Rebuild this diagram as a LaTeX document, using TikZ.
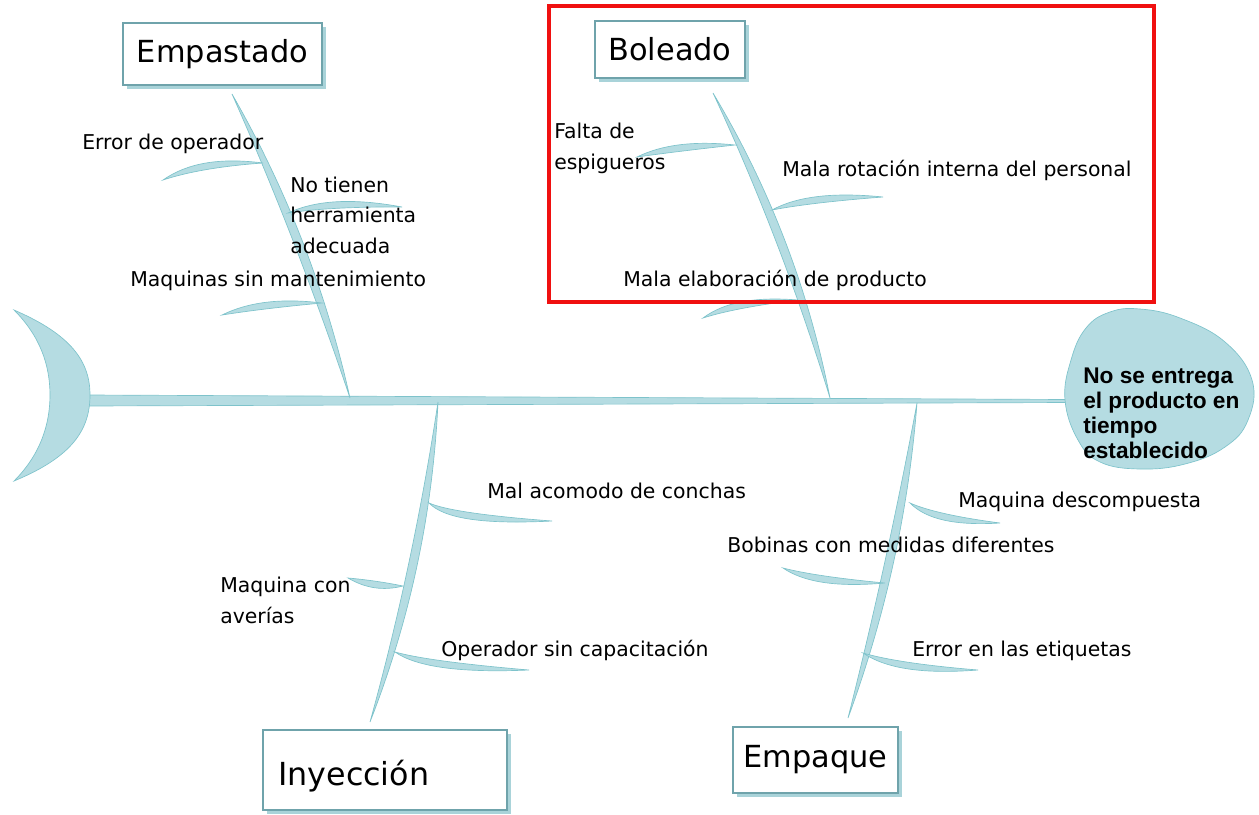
\documentclass[tikz,border=0pt]{standalone}
\usepackage{fontspec}
\setmainfont{DejaVu Sans}
\newfontfamily\headfont{Liberation Sans}
\usetikzlibrary{calc,shadows}
\definecolor{bonefill}{HTML}{B5DCE2}
\definecolor{boneline}{HTML}{7EC3CB}
\definecolor{boxline}{HTML}{6FA3AB}
\definecolor{boxshadow}{HTML}{A9D3D9}
\definecolor{redframe}{HTML}{F01010}
% #1 far tip, #2 quadratic control of centre line, #3 spine end, #4 control offset
\newcommand{\fbone}[4]{%
  \coordinate (fbA) at (#1);
  \coordinate (fbB) at (#3);
  \coordinate (fbP) at ($(fbA)!0.6667!(#2)$);
  \coordinate (fbQ) at ($(fbB)!0.6667!(#2)$);
  \fill[bonefill, draw=boneline, line width=0.5pt]
    (fbA) .. controls ($(fbP)!#4!90:(fbB)$) and ($(fbQ)!#4!-90:(fbA)$) .. (fbB)
    .. controls ($(fbQ)!#4!90:(fbA)$) and ($(fbP)!#4!-90:(fbB)$) .. (fbA) -- cycle;}
\tikzset{
  lbl/.style={anchor=base west, inner sep=0pt, font=\fontsize{15.3}{18}\selectfont},
  catbox/.style={draw=boxline, fill=white, line width=1pt, inner sep=0pt,
    drop shadow={shadow xshift=3pt, shadow yshift=-3pt, fill=boxshadow, opacity=1},
    font=\fontsize{22.8}{26}\selectfont},
}
\begin{document}
\begin{tikzpicture}[x=0.75pt,y=-0.75pt]
\useasboundingbox (0,0) rectangle (1259,814);
% spine
\fill[bonefill, draw=boneline, line width=0.5pt] (88,395) -- (1068,399.5) -- (1068,402.5) -- (88,406) -- cycle;
% tail
\fill[bonefill, draw=boneline, line width=0.5pt] (14,310) .. controls (72,335) and (90,362) .. (90,395) .. controls (90,430) and (72,457) .. (14,481) .. controls (40,455) and (50,425) .. (50,395) .. controls (50,365) and (40,336) .. (14,310) -- cycle;
% main bones
\fbone{232,94}{306,240}{350,398}{4.3pt}
\fbone{713,93}{790,238}{830,398}{4.3pt}
\fbone{370,722}{422,566}{438,402}{4.3pt}
\fbone{848,718}{896,563}{917,403}{4.3pt}
% sub bones
\fbone{163,180}{200,161}{263,163}{3.3pt}
\fbone{402,207}{330,200}{288,213}{3.3pt}
\fbone{222,315}{262,302}{322,303}{3.3pt}
\fbone{637,157}{675,145}{735,145}{3.3pt}
\fbone{883,197}{810,196}{772,210}{3.3pt}
\fbone{703,318}{735,301}{798,300}{3.3pt}
\fbone{552,521}{452,520}{429,503}{3.3pt}
\fbone{348,578}{375,587}{403,586}{3.3pt}
\fbone{529,670}{428,668}{395,652}{3.3pt}
\fbone{1000,523}{935,521}{910,503}{3.3pt}
\fbone{783,568}{815,583}{885,583}{3.3pt}
\fbone{978,670}{898,670}{863,653}{3.3pt}
% head
\fill[bonefill, draw=boneline, line width=0.5pt] plot[smooth cycle, tension=0.7] coordinates {(1065,400) (1071,360) (1086,328) (1110,312) (1140,309) (1180,318) (1225,342) (1252,380) (1248,420) (1225,447) (1185,464) (1140,469) (1100,462) (1078,440)};
\node[anchor=north west, align=left, inner sep=0pt, font=\headfont\bfseries\fontsize{17}{18.6}\selectfont] (head) at (1083,368) {No se entrega\\el producto en\\tiempo\\establecido};
% red frame
\draw[redframe, line width=2.3pt] (549,6) rectangle (1154,302);
% category boxes
\node[catbox, minimum width=149.25pt, minimum height=46.5pt] (empastado) at (222.5,54) {Empastado};
\node[catbox, minimum width=112.5pt, minimum height=42.75pt] (boleado) at (670,49.5) {Boleado};
\node[catbox, minimum width=183pt, minimum height=60pt] (inybox) at (385,770) {};
\node[anchor=west, inner sep=0pt, font=\fontsize{23.8}{26}\selectfont] (inyeccion) at (278,776) {Inyección};
\node[catbox, minimum width=123.75pt, minimum height=49.5pt] (empaque) at (815.5,760) {Empaque};
% labels
\node[lbl] (c1) at (82,149) {Error de operador};
\node[lbl] (c2a) at (290,192) {No tienen};
\node[lbl] (c2b) at (290,222) {herramienta};
\node[lbl] (c2c) at (290,253) {adecuada};
\node[lbl] (c3) at (130,286) {Maquinas sin mantenimiento};
\node[lbl] (b1a) at (554,138) {Falta de};
\node[lbl] (b1b) at (554,169) {espigueros};
\node[lbl] (b2) at (782,176) {Mala rotación interna del personal};
\node[lbl] (b3) at (623,286) {Mala elaboración de producto};
\node[lbl] (i1) at (487,498) {Mal acomodo de conchas};
\node[lbl] (i2a) at (220,592) {Maquina con};
\node[lbl] (i2b) at (220,623) {averías};
\node[lbl] (i3) at (441,656) {Operador sin capacitación};
\node[lbl] (e1) at (958,507) {Maquina descompuesta};
\node[lbl] (e2) at (727,552) {Bobinas con medidas diferentes};
\node[lbl] (e3) at (912,656) {Error en las etiquetas};
\end{tikzpicture}
\end{document}
